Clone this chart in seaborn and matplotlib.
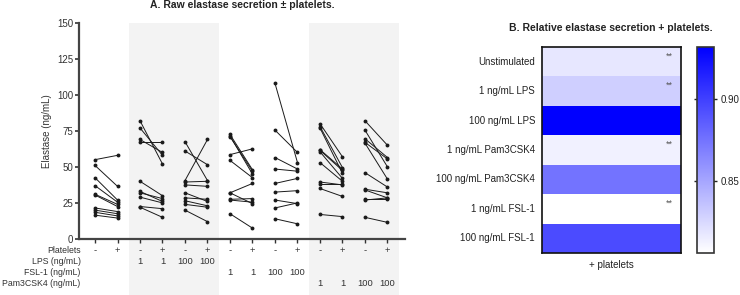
import numpy as np
import pandas as pd
import matplotlib
matplotlib.use('Agg')
import matplotlib.pyplot as plt
import seaborn as sns
from matplotlib.colors import LinearSegmentedColormap

# Panel A: raw elastase (ng/mL) per donor, without (-) and with (+) platelets
groups = ['Unstimulated', '1 ng/mL LPS', '100 ng/mL LPS', '1 ng/mL FSL-1',
          '100 ng/mL FSL-1', '1 ng/mL Pam3CSK4', '100 ng/mL Pam3CSK4']
minus_plt = [
    [55, 51, 42.5, 37, 31, 30.5, 21.5, 20, 18.5, 16.5],
    [82, 77, 69, 67, 40, 33, 32, 29, 22.5, 22],
    [67.5, 61, 40.5, 39.5, 37.5, 32, 28.5, 26.5, 24, 20],
    [72.5, 71.5, 71, 58.5, 54.5, 32, 32, 27.5, 27, 17.5],
    [108, 75.5, 56.5, 48.5, 38.5, 32.5, 27, 21.5, 14],
    [80, 78, 77, 62, 61.5, 60.5, 53, 39.5, 38, 35, 17],
    [82, 75.5, 69.5, 67, 66.5, 46, 34.5, 34, 27.5, 27, 15],
]
plus_plt = [
    [58, 36.5, 27, 25.5, 24, 22.5, 19, 17.5, 16, 14.5],
    [52, 58, 60, 67, 30, 26, 28, 25, 21, 15],
    [40.5, 51.5, 69, 40, 36.5, 26, 27.5, 23, 22, 12],
    [48, 45, 47, 62.5, 42.5, 38.5, 24.5, 28, 25.5, 7.5],
    [53, 60, 48.5, 47, 42, 33.5, 24.5, 25, 10.5],
    [57, 49.5, 45.5, 48.5, 47.5, 42, 40, 37.5, 38, 29.5, 15.5],
    [65, 50, 56.5, 55.5, 41.5, 36, 32, 28.5, 27.5, 28.5, 11.5],
]
shaded_groups = [1, 2, 5, 6]

# condition table under panel A
row_names = ['Platelets', 'LPS (ng/mL)', 'FSL-1 (ng/mL)', 'Pam3CSK4 (ng/mL)']
platelet_row = ['-', '+'] * 7
lps_row = ['', '', '1', '1', '100', '100'] + [''] * 8
fsl_row = [''] * 6 + ['1', '1', '100', '100'] + [''] * 4
pam_row = [''] * 10 + ['1', '1', '100', '100']

# Panel B: relative elastase secretion with platelets
heat_labels = ['Unstimulated', '1 ng/mL LPS', '100 ng/mL LPS', '1 ng/mL Pam3CSK4',
               '100 ng/mL Pam3CSK4', '1 ng/mL FSL-1', '100 ng/mL FSL-1']
heat_values = [0.818, 0.830, 0.935, 0.813, 0.875, 0.806, 0.895]
heat_sig = ['**', '**', '', '**', '', '**', '']
cbar_ticks = [0.85, 0.90]

sns.set_style('ticks')
plt.rcParams['font.family'] = ['Liberation Sans', 'DejaVu Sans']

# long-format table, one row per donor/condition
rows = []
for g in range(len(groups)):
    for i, (m, p) in enumerate(zip(minus_plt[g], plus_plt[g])):
        rows.append({'donor': f'{g}_{i}', 'x': 2 * g, 'elastase': m})
        rows.append({'donor': f'{g}_{i}', 'x': 2 * g + 1, 'elastase': p})
df = pd.DataFrame(rows)

fig = plt.figure(figsize=(7.4, 2.95), dpi=100)
ax = fig.add_axes([0.1068, 0.19, 0.4405, 0.733])

xlim = (-0.71, 13.78)
for g in shaded_groups[::2]:
    ax.axvspan(2 * g - 0.5, min(2 * g + 3.5, xlim[1]), ymin=-0.26, ymax=1,
               color='#f3f3f3', lw=0, zorder=0, clip_on=False)

sns.lineplot(data=df, x='x', y='elastase', units='donor', estimator=None,
             color='#1a1a1a', linewidth=0.7, marker='o', markersize=2.8,
             markeredgewidth=0, sort=False, ax=ax)

ax.set_xlim(*xlim)
ax.set_ylim(0, 150)
ax.set_yticks(np.arange(0, 151, 25))
ax.set_xticks(np.arange(14))
ax.set_xticklabels([])
ax.set_xlabel('')
ax.set_ylabel('Elastase (ng/mL)', fontsize=7, color='#333333', labelpad=4)
ax.tick_params(axis='y', labelsize=7, colors='#333333', length=3, width=1.2, pad=1)
ax.tick_params(axis='x', length=3, width=1, colors='#333333')
sns.despine(ax=ax)
for s in ['left', 'bottom']:
    ax.spines[s].set_linewidth(1.6)
    ax.spines[s].set_color('#444444')
ax.set_facecolor('none')

tr = ax.get_xaxis_transform()
table_rows = [platelet_row, lps_row, fsl_row, pam_row]
for r, (name, vals) in enumerate(zip(row_names, table_rows)):
    yy = -0.055 - 0.0505 * r
    ax.text(xlim[0] + 0.07, yy, name, transform=tr, ha='right', va='center',
            fontsize=6.3, color='#333333')
    for k, v in enumerate(vals):
        if v:
            ax.text(k, yy, v, transform=tr, ha='center', va='center',
                    fontsize=6.8, color='#333333')

fig.text(0.327, 0.983, 'A. Raw elastase secretion \u00b1 platelets.',
         ha='center', va='center', fontsize=7.5, fontweight='bold', color='#222222')

# Panel B heatmap
hax = fig.add_axes([0.7324, 0.1424, 0.1878, 0.698])
cax = fig.add_axes([0.9419, 0.1424, 0.023, 0.698])
cmap = LinearSegmentedColormap.from_list('wb', ['#ffffff', '#0000ff'])
heat = pd.DataFrame({'+ platelets': heat_values}, index=heat_labels)
sns.heatmap(heat, ax=hax, cbar_ax=cax, cmap=cmap, vmin=0.806, vmax=0.932,
            linewidths=0)
hax.tick_params(length=0, labelsize=7, colors='#222222', pad=5)
hax.set_yticklabels(heat_labels, rotation=0)
hax.set_xticklabels(['+ platelets'], rotation=0)
for s in hax.spines.values():
    s.set_visible(True)
    s.set_linewidth(1.2)
    s.set_color('#111111')
for i, s in enumerate(heat_sig):
    if s:
        hax.text(0.92, i + 0.3, s, ha='center', va='center', fontsize=6.5,
                 color='#555555')

cbar = hax.collections[0].colorbar
cbar.set_ticks(cbar_ticks)
cbar.set_ticklabels(['0.85', '0.90'])
cbar.outline.set_visible(True)
cbar.outline.set_linewidth(1.2)
cbar.outline.set_edgecolor('#333333')
cax.tick_params(labelsize=7, colors='#222222', direction='inout', length=4,
                width=1, left=True, right=True, pad=3)

fig.text(0.826, 0.905, 'B. Relative elastase secretion + platelets.',
         ha='center', va='center', fontsize=7.5, fontweight='bold', color='#222222')

fig.savefig('out.png', dpi=100)
